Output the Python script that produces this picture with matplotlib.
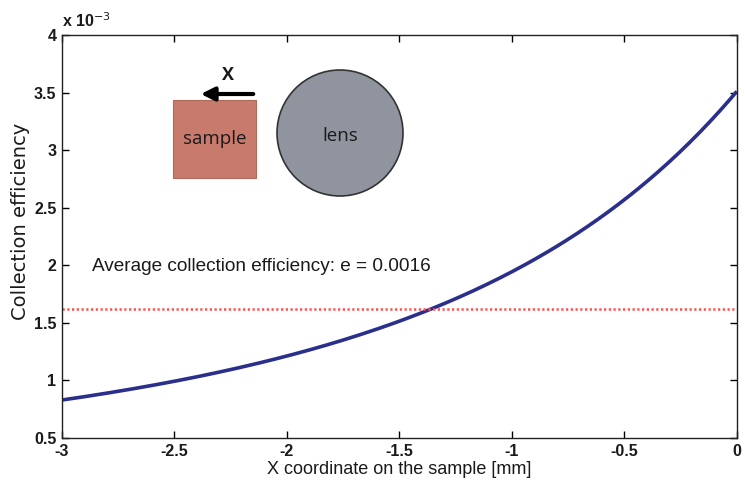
import numpy as np
import matplotlib.pyplot as plt
from matplotlib.patches import Rectangle, Circle, FancyArrowPatch

plt.rcParams['font.family'] = ['Liberation Sans', 'DejaVu Sans']

# values (efficiency in units of 1e-3)
x_mm = [-3.0, -2.75, -2.5, -2.25, -2.0, -1.75, -1.5, -1.25, -1.0, -0.75, -0.5, -0.25, 0.0]
efficiency = [0.83, 0.90, 1.00, 1.10, 1.21, 1.35, 1.50, 1.70, 1.96, 2.25, 2.56, 2.97, 3.52]
average = 1.62
x_ticks = [-3, -2.5, -2, -1.5, -1, -0.5, 0]
y_ticks = [0.5, 1, 1.5, 2, 2.5, 3, 3.5, 4]

fig = plt.figure(figsize=(7.45, 4.83), dpi=100)
ax = fig.add_axes([0.0832, 0.0932, 0.9058, 0.8343])

# smooth the hand-read points
coeffs = np.polyfit(x_mm, np.log(efficiency), 3)
xs = np.linspace(-3, 0, 200)
ax.plot(xs, np.exp(np.polyval(coeffs, xs)), color='#2a2f8c', lw=2.6, solid_capstyle='butt')
ax.plot([-3, 0], [average, average], color='#ff5050', lw=1.8, ls=(0, (0.9, 1.0)))

ax.text(-2.865, 1.99, 'Average collection efficiency: e = 0.0016',
        fontsize=13.7, color='#1a1a1a', va='center', ha='left')

ax.set_xlim(-3, 0)
ax.set_ylim(0.5, 4)
ax.set_xticks(x_ticks)
ax.set_xticklabels(['-3', '-2.5', '-2', '-1.5', '-1', '-0.5', '0'])
ax.set_yticks(y_ticks)
ax.set_yticklabels(['0.5', '1', '1.5', '2', '2.5', '3', '3.5', '4'])
ax.tick_params(direction='in', length=5, width=1, top=True, right=True,
               labelsize=11.5, pad=4)
for lab in ax.get_xticklabels() + ax.get_yticklabels():
    lab.set_fontweight('bold')
    lab.set_color('#1a1a1a')
for s in ax.spines.values():
    s.set_linewidth(1)
    s.set_color('#222222')

ax.set_xlabel('X coordinate on the sample [mm]', fontsize=13, color='#1a1a1a', labelpad=2)
ax.set_ylabel('Collection efficiency', fontsize=14, color='#1a1a1a', family='DejaVu Sans')
ax.yaxis.set_label_coords(-0.048, 0.538)
ax.text(0.0, 1.012, r'x 10$^{-3}$', transform=ax.transAxes, fontsize=11.5,
        fontweight='bold', ha='left', va='bottom', color='#1a1a1a')

# inset sketch of the sample and the lens, in pixel coordinates
ov = fig.add_axes([0, 0, 1, 1])
ov.set_xlim(0, 745)
ov.set_ylim(483, 0)
ov.axis('off')
ov.add_patch(Rectangle((173, 100), 83, 78, facecolor='#c87a6c', edgecolor='#b06a5c', lw=0.8))
ov.text(214.5, 139, 'sample', fontsize=13.5, family=['Open Sans', 'DejaVu Sans'],
        ha='center', va='center', color='#1a1a1a')
ov.add_patch(Circle((340, 133), 63, facecolor='#8f949f', edgecolor='#333333', lw=1.2))
ov.text(340, 136, 'lens', fontsize=13.5, family=['Open Sans', 'DejaVu Sans'],
        ha='center', va='center', color='#1a1a1a')
ov.add_patch(FancyArrowPatch((256, 94), (198, 94), arrowstyle='-|>,head_length=8,head_width=4',
                             color='black', lw=3, mutation_scale=1))
ov.text(228, 75, 'X', fontsize=13, fontweight='bold', family=['Open Sans', 'DejaVu Sans'],
        ha='center', va='center', color='#1a1a1a')

fig.savefig('out.png', dpi=100)
